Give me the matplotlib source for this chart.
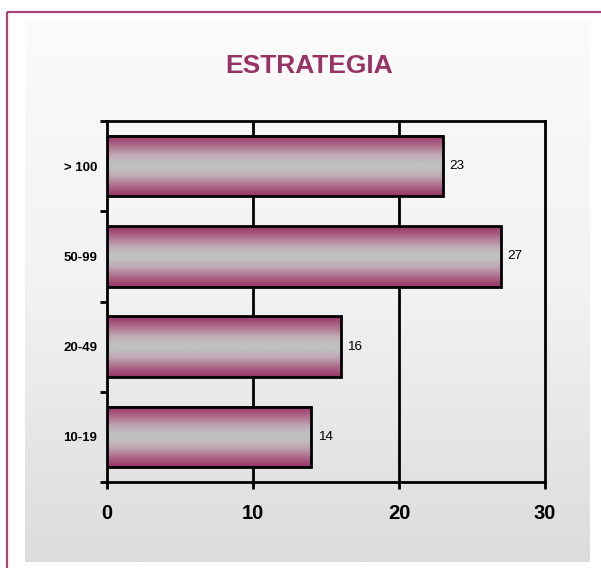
import numpy as np
import matplotlib.pyplot as plt
from matplotlib.colors import LinearSegmentedColormap
from matplotlib.patches import Rectangle

# data
categories = ["10-19", "20-49", "50-99", "> 100"]
values = [14, 16, 27, 23]
xticks = [0, 10, 20, 30]

W, H = 601, 568
fig = plt.figure(figsize=(W / 100, H / 100), dpi=100)

# background: purple frame + grey gradient panel
bg = fig.add_axes([0, 0, 1, 1], zorder=-10)
bg.set_xlim(0, W)
bg.set_ylim(H, 0)
bg.axis("off")
panel = np.linspace(0, 1, 256).reshape(-1, 1)
panel_cmap = LinearSegmentedColormap.from_list("panel", ["#fbfbfb", "#f2f2f2", "#dcdcdc"])
bg.imshow(panel, cmap=panel_cmap, aspect="auto", extent=(25, 590, 562, 22), zorder=0)
bg.plot([7, 7], [568, 11.5], color="#a8457a", lw=1.6, solid_capstyle="butt")
bg.plot([7, 601], [11.5, 11.5], color="#a8457a", lw=1.6, solid_capstyle="butt")
bg.text(309, 66, "ESTRATEGIA", color="#993366", fontsize=19, fontweight="bold",
        ha="center", va="center", family="Liberation Sans")

ax = fig.add_axes([107 / W, 1 - 482 / H, 438 / W, 361 / H])
ax.patch.set_alpha(0)

bar_cmap = LinearSegmentedColormap.from_list(
    "bar", [(0, "#993366"), (0.12, "#a85a80"), (0.32, "#bfa6b2"), (0.45, "#c0c0c0"),
            (0.55, "#c0c0c0"), (0.68, "#bfa6b2"), (0.88, "#a85a80"), (1, "#993366")])
grad = np.linspace(0, 1, 200).reshape(-1, 1)
bh = 0.67
ypos = np.arange(len(categories))
for y, v in zip(ypos, values):
    ax.imshow(grad, cmap=bar_cmap, aspect="auto",
              extent=(0, v, y - bh / 2, y + bh / 2), zorder=3)
    ax.add_patch(Rectangle((0, y - bh / 2), v, bh, fill=False, ec="black", lw=2, zorder=4))
    ax.text(v + 0.45, y, str(v), va="center", ha="left", fontsize=9.7,
            family="Liberation Sans", zorder=5)

ax.set_xlim(0, 30)
ax.set_ylim(-0.5, 3.5)

for s in ax.spines.values():
    s.set_linewidth(2)
    s.set_color("black")
ax.set_xticks(xticks)
ax.set_xticklabels([str(t) for t in xticks], fontsize=14.5, fontweight="bold", family="Liberation Sans")
for t in xticks[1:-1]:
    ax.axvline(t, color="black", lw=2, zorder=1)
ax.tick_params(axis="x", direction="out", length=5, width=2, pad=11)

ax.set_yticks(np.arange(-0.5, 4.0, 1.0))
ax.set_yticklabels([])
ax.set_yticks(ypos, minor=True)
ax.set_yticklabels(categories, minor=True, fontsize=9.5, fontweight="bold", family="Liberation Sans")
ax.tick_params(axis="y", which="major", direction="out", length=5, width=2)
ax.tick_params(axis="y", which="minor", length=0, pad=7)

fig.savefig("out.png", dpi=100)
